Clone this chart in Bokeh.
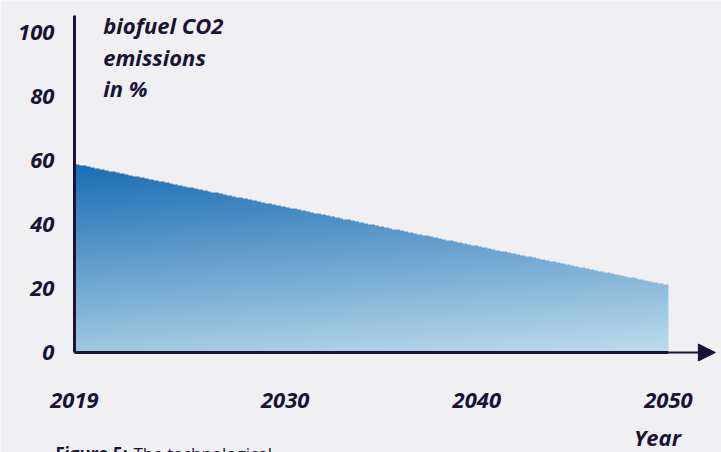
import numpy as np
from bokeh.plotting import figure
from bokeh.models import Label, Arrow, NormalHead, FixedTicker, Range1d
from bokeh.core.properties import value
from bokeh.embed import file_html
from bokeh.resources import INLINE

# ---- data ----
years = [2019, 2050]
emissions = [59, 21]
x_ticks = [2019, 2030, 2040, 2050]
y_ticks = [0, 20, 40, 60, 80, 100]
title_lines = ["biofuel CO2", "emissions", "in %"]
x_title = "Year"
caption_bold = "Figure 5:"
caption_rest = "The technological"

BG = "#f0f0f3"
NAVY = "#1a1434"
DARK = (26, 108, 180)
LIGHT = (190, 221, 236)
FONT = "Open Sans"

p = figure(width=721, height=452, output_backend="svg", toolbar_location=None,
           x_range=Range1d(2015.14, 2052.77), y_range=Range1d(-31.25, 110),
           min_border=0, min_border_left=0, min_border_right=0,
           min_border_top=0, min_border_bottom=0)
p.background_fill_color = BG
p.border_fill_color = BG
p.outline_line_color = None
p.grid.visible = False

# gradient-filled area (image masked by the data line)
nx, ny = 640, 420
ymax = max(emissions) + 1
xs = np.linspace(years[0], years[-1], nx)
ys = np.linspace(0, ymax, ny)
X, Y = np.meshgrid(xs, ys)
top = np.interp(X, years, emissions)
t = 0.82 * (1 - Y / emissions[0]) + 0.18 * (X - years[0]) / (years[-1] - years[0])
t = np.clip(t, 0, 1)
r = (DARK[0] + t * (LIGHT[0] - DARK[0])).astype(np.uint32)
g = (DARK[1] + t * (LIGHT[1] - DARK[1])).astype(np.uint32)
b = (DARK[2] + t * (LIGHT[2] - DARK[2])).astype(np.uint32)
a = np.where(Y <= top, 255, 0).astype(np.uint32)
img = (a << 24) | (b << 16) | (g << 8) | r
img = img.view(np.uint32).reshape(ny, nx)
p.varea(x=years, y1=[0, 0], y2=emissions, fill_color="#7fb4d9", fill_alpha=0.0)
p.image_rgba(image=[img], x=years[0], y=0, dw=years[-1] - years[0], dh=ymax)

# axes
for ax in (p.xaxis, p.yaxis):
    ax.axis_line_color = NAVY
    ax.axis_line_width = 3
    ax.major_tick_line_color = None
    ax.minor_tick_line_color = None
    ax.major_tick_out = 0
    ax.major_tick_in = 0
    ax.major_label_text_font = FONT
    ax.major_label_text_font_style = "bold italic"
    ax.major_label_text_font_size = "22px"
    ax.major_label_text_color = NAVY

p.xaxis.fixed_location = 0
p.yaxis.fixed_location = years[0]
p.xaxis.ticker = FixedTicker(ticks=x_ticks)
p.yaxis.ticker = FixedTicker(ticks=y_ticks)
p.xaxis.bounds = (years[0], years[-1])
p.yaxis.bounds = (0, 105.3)
p.xaxis.major_label_standoff = 40
p.yaxis.major_label_standoff = 20

p.add_layout(Arrow(end=NormalHead(size=17, fill_color=NAVY, line_color=NAVY),
                   x_start=years[-1], y_start=0, x_end=2052.45, y_end=0,
                   line_color=NAVY, line_width=2))

# axis title (top-left)
for i, line in enumerate(title_lines):
    p.add_layout(Label(x=2020.5, y=97.6 - i * 9.85, text=line,
                       text_font=FONT, text_font_style="bold italic",
                       text_font_size="22px", text_color=NAVY))

p.add_layout(Label(x=2048.2, y=-31.2, text=x_title, text_font=FONT,
                   text_font_style="bold italic", text_font_size="22px",
                   text_color=NAVY))

# caption (cut off at bottom, as in the reference)
p.text(x=[2015.14 + 55 / 19.16], y=[-28.0], text=[caption_bold],
       text_font=value("Open Sans"), text_font_style="bold",
       text_font_size="17px", text_color=NAVY, text_baseline="top")
p.text(x=[2015.14 + 133 / 19.16], y=[-28.0], text=[caption_rest],
       text_font=value("Open Sans"), text_font_style="normal",
       text_font_size="17px", text_color=NAVY, text_baseline="top")

open("out.html", "w").write(file_html(p, INLINE))
